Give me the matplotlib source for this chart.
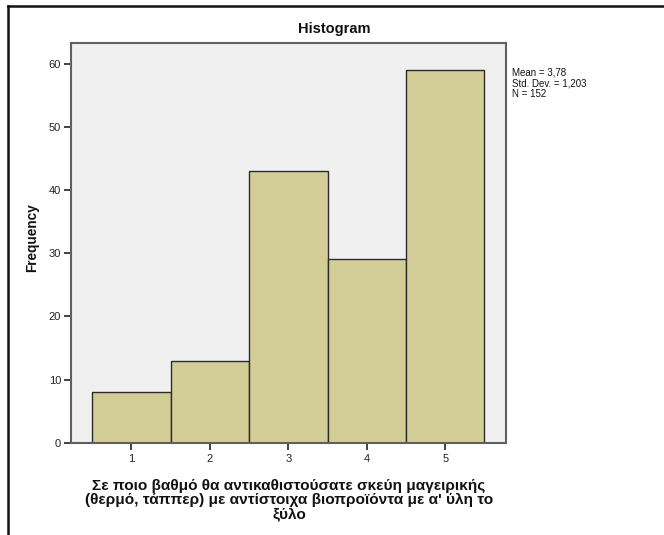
import matplotlib
matplotlib.use("Agg")
import matplotlib.pyplot as plt
from matplotlib.lines import Line2D

categories = [1, 2, 3, 4, 5]
frequencies = [8, 13, 43, 29, 59]
y_ticks = [0, 10, 20, 30, 40, 50, 60]
title = "Histogram"
y_label = "Frequency"
x_label = ("Σε ποιο βαθμό θα αντικαθιστούσατε σκεύη μαγειρικής\n"
           "(θερμό, τάππερ) με αντίστοιχα βιοπροϊόντα με α' ύλη το\n"
           "ξύλο")
stats_text = "Mean = 3,78\nStd. Dev. = 1,203\nN = 152"

plt.rcParams['font.family'] = ['Liberation Sans', 'DejaVu Sans']

fig = plt.figure(figsize=(6.64, 5.35), dpi=100)
ax = fig.add_axes([0.1065, 0.1725, 0.762 - 0.1065, 0.919 - 0.1725])
ax.set_facecolor('#f0f0f0')

ax.bar(categories, frequencies, width=1.0, color='#d3ce98',
       edgecolor='#2b2b2b', linewidth=1.0, zorder=2)

ax.set_xlim(0.225, 5.775)
ax.set_ylim(0, 63.2)
ax.set_xticks(categories)
ax.set_yticks(y_ticks)
ax.tick_params(axis='both', direction='out', length=5, width=1.3,
               color='#333333', labelsize=8, labelcolor='#222222', pad=2)
ax.tick_params(axis='x', pad=3)
for s in ax.spines.values():
    s.set_color('#606060')
    s.set_linewidth(1.5)

fig.text(334 / 664, 1 - 29 / 535, title, ha='center', va='center',
         fontsize=10.5, fontweight='bold', color='#111111')
fig.text(32.5 / 664, 1 - 238 / 535, y_label, ha='center', va='center',
         rotation=90, fontsize=9.8, fontweight='bold', color='#111111')
fig.text(289 / 664, 1 - 500 / 535, x_label, ha='center', va='center',
         fontsize=11.1, fontweight='bold', color='#111111', linespacing=0.98)
fig.text(512.5 / 664, 1 - 67.5 / 535, stats_text, ha='left', va='top',
         fontsize=7.0, color='#111111', linespacing=1.1)

# outer frame (top and left edges)
fig.add_artist(Line2D([8 / 664, 1.0], [1 - 5.8 / 535, 1 - 5.8 / 535],
                      transform=fig.transFigure, color='#111111', lw=1.8))
fig.add_artist(Line2D([8.3 / 664, 8.3 / 664], [0.0, 1 - 5.8 / 535],
                      transform=fig.transFigure, color='#111111', lw=1.8))

fig.savefig("out.png", dpi=100)
